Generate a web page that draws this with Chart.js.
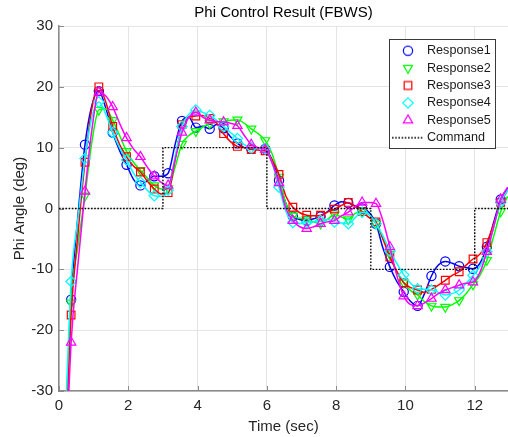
<!DOCTYPE html>
<html><head><meta charset="utf-8">
<script src="https://cdn.jsdelivr.net/npm/chart.js@4.4.1/dist/chart.umd.min.js"></script>
<style>html,body{margin:0;padding:0;background:#fff;overflow:hidden}canvas{display:block}</style>
</head><body>
<canvas id="c" width="508" height="437"></canvas>
<script>
const timeSec = [0.15,0.35,0.55,0.75,0.95,1.15,1.35,1.55,1.75,1.95,2.15,2.35,2.55,2.75,2.95,3.15,3.35,3.55,3.75,3.95,4.15,4.35,4.55,4.75,4.95,5.15,5.35,5.55,5.75,5.95,6.15,6.35,6.55,6.75,6.95,7.15,7.35,7.55,7.75,7.95,8.15,8.35,8.55,8.75,8.95,9.15,9.35,9.55,9.75,9.95,10.15,10.35,10.55,10.75,10.95,11.15,11.35,11.55,11.75,11.95,12.15,12.35,12.55,12.75,12.95];
const response1 = [-42,-15,-1,10.5,17,19.3,16.5,12.5,9.5,7.2,4.8,3.8,4.6,5.3,5.3,5.8,10.5,14.4,15,13.3,13.5,13.1,13.8,13.2,11.8,10.7,10,9.8,10,9.8,8,4.6,0.8,-1.3,-1.8,-2,-1.7,-1.3,-0.5,0.5,1.1,0.9,0.4,0,-0.6,-2.5,-6.5,-9.6,-12,-13.7,-15.3,-16,-14,-11.1,-9.3,-8.7,-9,-9.5,-9.7,-9.9,-9,-6.3,-2.2,1.5,3.4];
const response2 = [-44,-15.5,-6,2.1,11,16.2,16.4,14.5,12,9.4,7.6,6.3,5,3.8,3.2,3.3,6.8,10.6,12,12.7,13.4,14,14.2,14.3,14.5,14.6,14,13.1,12.3,11.2,9,5.2,0.8,-1.2,-1.6,-1.8,-2.2,-2.5,-1.8,-1,-1.4,-1.8,-0.8,-0.5,-1,-2.5,-5,-7.5,-10.5,-12.2,-13.5,-14.2,-15.3,-16,-16.2,-16.2,-15.8,-15.1,-14,-12.5,-11,-8.5,-4.5,-0.5,2];
const response3 = [-46,-17.5,-4,7.6,16.5,20,17.5,13.5,10.5,8.5,7,6,4.5,3.2,2.4,2.6,8,13.8,15,15.2,15.3,14.8,14,12.3,11,10.2,10,9.7,9.6,9.5,8,5.6,2,0.2,-0.7,-1.1,-1.2,-1.1,-0.6,-0.1,0.5,1,0.3,-0.5,-1.5,-2.2,-5,-8,-10.3,-12.2,-13,-13.4,-13.8,-13.3,-12.6,-11.8,-11,-10.4,-9.3,-8.3,-7.5,-5.6,-2.5,1,3];
const response4 = [-40,-12,-1.5,8.2,15,17.5,15.5,12.5,10,8,5.8,4.3,3,2.1,2,3,8.5,13.5,15.5,16.2,15.8,15.3,14.5,13.5,12.5,11.5,10.5,10,10,9.8,7.5,3.5,-0.5,-2.3,-2.5,-2.3,-2.2,-2,-1.8,-2.2,-2.4,-2.5,-1.5,-0.6,-1,-2.5,-4.5,-7,-9,-10.9,-12.3,-13.2,-13.3,-13.4,-13.8,-14.2,-14,-13.4,-12.3,-11,-9.5,-7.1,-3,1,3];
const response5 = [-50,-22,-9,2.8,13,19.1,18.5,16.7,14,11.6,9.8,8.5,6.8,5.3,4.3,3.8,8,12.5,15,15.8,15,14.5,14.3,14.2,14,13.6,12,10.5,10,9.7,7.5,4.2,0,-2,-3,-3.3,-3,-2.5,-2.2,-2,-1.2,-0.6,0.3,1,1,0.8,-2,-6.3,-11,-14.4,-15.8,-16,-15.5,-14.8,-14,-13.4,-13,-12.6,-12.3,-12.1,-10.5,-7.1,-3,1.5,3.5];
const commandTime = [0,3,6,9,12,12.96];
const commandValue = [0,10,0,-10,0,0];
const seriesNames = ['Response1','Response2','Response3','Response4','Response5','Command'];
const xTickValues = [0,2,4,6,8,10,12];
const yTickValues = [-30,-20,-10,0,10,20,30];

const FONT = "'Liberation Sans', Arial, Helvetica, sans-serif";
const seriesData = [response1, response2, response3, response4, response5];
const colors = ['#0000ff','#00ff00','#ff0000','#00ffff','#ff00ff'];
const styles = ['circle','triangle','rect','rectRot','triangle'];
const rotations = [0,180,0,0,0];
const radii = [4.6,5.2,5.4,5.2,5.4];

function markerImage(style, color, rot, r) {
  const c = document.createElement('canvas'); c.width = 16; c.height = 16;
  const g = c.getContext('2d'); g.strokeStyle = color; g.lineWidth = 1.2;
  const cx = 8, cy = 8; g.beginPath();
  if (style === 'circle') g.arc(cx, cy, r, 0, Math.PI * 2);
  else if (style === 'rect') { const s = r * Math.SQRT1_2; g.rect(cx - s, cy - s, 2 * s, 2 * s); }
  else if (style === 'rectRot') { g.moveTo(cx, cy - r); g.lineTo(cx + r, cy); g.lineTo(cx, cy + r); g.lineTo(cx - r, cy); g.closePath(); }
  else {
    const a0 = rot * Math.PI / 180;
    for (let j = 0; j < 3; j++) { const a = a0 + j * 2 * Math.PI / 3; const px = cx + Math.sin(a) * r, py = cy - Math.cos(a) * r; if (j) g.lineTo(px, py); else g.moveTo(px, py); }
    g.closePath();
  }
  g.stroke(); return c;
}
function dottedImage() {
  const c = document.createElement('canvas'); c.width = 32; c.height = 4;
  const g = c.getContext('2d'); g.strokeStyle = '#000'; g.lineWidth = 1.4; g.setLineDash([1.6, 1.6]);
  g.beginPath(); g.moveTo(0, 2); g.lineTo(32, 2); g.stroke(); return c;
}
const legendImages = colors.map((c, k) => markerImage(styles[k], c, rotations[k], radii[k])).concat([dottedImage()]);

const datasets = seriesData.map((s, k) => ({
  label: seriesNames[k],
  data: timeSec.map((t, i) => ({x: t, y: s[i]})),
  borderColor: colors[k], backgroundColor: 'rgba(0,0,0,0)', borderWidth: 1.5,
  pointStyle: styles[k], pointRotation: rotations[k],
  pointRadius: (ctx) => (ctx.dataIndex % 2 === 1 ? radii[k] : 0),
  pointHoverRadius: 0, pointBorderWidth: 1.2,
  pointBorderColor: colors[k], pointBackgroundColor: 'rgba(0,0,0,0)',
  cubicInterpolationMode: 'monotone', clip: 0, order: 10 - k
}));
datasets.push({
  label: seriesNames[5],
  data: commandTime.map((t, i) => ({x: t, y: commandValue[i]})),
  borderColor: '#000', borderWidth: 1.4, borderDash: [1.6, 1.6], stepped: true,
  pointRadius: 0, pointHoverRadius: 0, fill: false, clip: 0, order: 1
});

const legendPlace = {
  id: 'legendPlace',
  afterLayout(chart) {
    const lg = chart.legend; if (!lg) return;
    lg.left = 390.5; lg.top = 39.6; lg.right = lg.left + lg.width; lg.bottom = lg.top + lg.height;
  },
  beforeDraw(chart) {
    const lg = chart.legend;
    if (lg && !lg._wrapped) {
      const orig = lg.draw.bind(lg);
      lg.draw = function(area) {
        const ctx = chart.ctx; ctx.save();
        ctx.fillStyle = '#fff'; ctx.fillRect(389.5, 39.5, 106, 109);
        ctx.strokeStyle = '#3a3a3a'; ctx.lineWidth = 1; ctx.strokeRect(389.5, 39.5, 106, 109);
        ctx.restore(); orig(area);
      };
      lg._wrapped = true;
    }
  },
  beforeDatasetsDraw(chart) {
    const {ctx, chartArea: a, scales: {x, y}} = chart;
    ctx.save(); ctx.strokeStyle = '#8a8a8a'; ctx.lineWidth = 1;
    x.ticks.forEach(t => { const px = Math.round(x.getPixelForValue(t.value)) + 0.5; ctx.beginPath(); ctx.moveTo(px, a.bottom); ctx.lineTo(px, a.bottom - 5); ctx.stroke(); });
    y.ticks.forEach(t => { const py = Math.round(y.getPixelForValue(t.value)) + 0.5; ctx.beginPath(); ctx.moveTo(a.left, py); ctx.lineTo(a.left + 5, py); ctx.stroke(); });
    ctx.restore();
  }
};

new Chart(document.getElementById('c'), {
  type: 'line',
  data: {datasets},
  plugins: [legendPlace],
  options: {
    responsive: false, animation: false, devicePixelRatio: 1, events: [],
    layout: {padding: 0},
    scales: {
      x: {
        type: 'linear', min: 0, max: 12.96,
        afterBuildTicks: (s) => { s.ticks = xTickValues.map(v => ({value: v})); },
        afterFit: (s) => { s.height = 46; },
        ticks: {font: {family: FONT, size: 15}, color: '#262626', padding: 6, maxRotation: 0, autoSkip: false, callback: (v) => String(v)},
        grid: {color: '#e4e4e4', lineWidth: 1, drawTicks: false},
        border: {color: '#8a8a8a', width: 1.5},
        title: {display: true, text: 'Time (sec)', font: {family: FONT, size: 15}, color: '#262626', padding: {top: 2.5, bottom: 1.5}}
      },
      y: {
        type: 'linear', min: -30, max: 30,
        afterBuildTicks: (s) => { s.ticks = yTickValues.map(v => ({value: v})); },
        afterFit: (s) => { s.width = 59; },
        ticks: {font: {family: FONT, size: 15}, color: '#262626', padding: 6, autoSkip: false, callback: (v) => String(v)},
        grid: {color: '#e4e4e4', lineWidth: 1, drawTicks: false},
        border: {color: '#8a8a8a', width: 1.5},
        title: {display: true, text: 'Phi Angle (deg)', font: {family: FONT, size: 15}, color: '#262626', padding: {top: 10.5, bottom: 0}}
      }
    },
    plugins: {
      title: {display: true, text: 'Phi Control Result (FBWS)', font: {family: FONT, size: 15, weight: 'normal'}, color: '#000', padding: {top: 4, bottom: 4}, fullSize: false},
      legend: {
        display: true, position: 'chartArea', align: 'start',
        labels: {
          usePointStyle: true, pointStyleWidth: 25.4, boxHeight: 12.6, padding: 4.8,
          font: {family: FONT, size: 12.6}, color: '#1a1a1a',
          generateLabels: (chart) => chart.data.datasets.map((ds, i) => ({
            text: ds.label, pointStyle: legendImages[i], fillStyle: 'rgba(0,0,0,0)',
            strokeStyle: 'rgba(0,0,0,0)', lineWidth: 0, hidden: false, datasetIndex: i, fontColor: '#1a1a1a'
          }))
        }
      },
      tooltip: {enabled: false}
    }
  }
});
</script>
</body></html>
